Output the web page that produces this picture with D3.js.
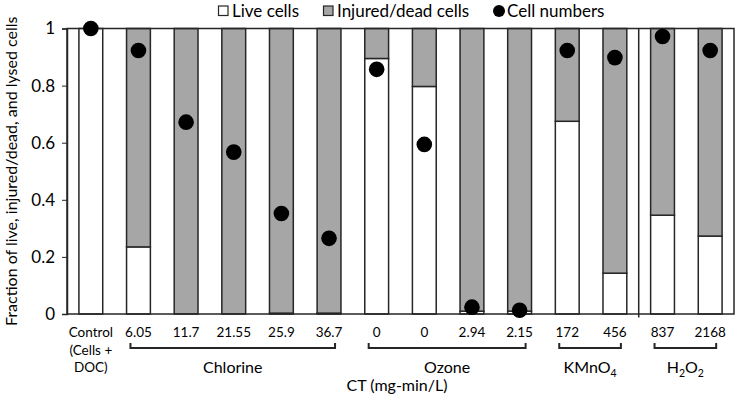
<!DOCTYPE html>
<html><head><meta charset="utf-8">
<script src="https://cdn.jsdelivr.net/npm/d3@7"></script>
<style>
html,body{margin:0;padding:0;background:#fff;}
svg text{font-family:Lato, "Open Sans", sans-serif;fill:#000;}
</style></head>
<body>
<svg id="chart" width="740" height="399"></svg>
<script>
// ---- data ----
const categories = ["Control|(Cells +|DOC)", "6.05", "11.7", "21.55", "25.9", "36.7", "0", "0", "2.94", "2.15", "172", "456", "837", "2168"];
const liveCells = [1.0, 0.235, 0, 0, 0.003, 0.003, 0.895, 0.797, 0.01, 0.01, 0.675, 0.143, 0.346, 0.273];
const injuredDeadCells = [0, 0.765, 1.0, 1.0, 0.997, 0.997, 0.105, 0.203, 0.99, 0.99, 0.325, 0.857, 0.654, 0.727];
const cellNumbers = [1.0, 0.923, 0.672, 0.567, 0.352, 0.265, 0.857, 0.594, 0.024, 0.013, 0.923, 0.898, 0.972, 0.923];
const yTicks = [0, 0.2, 0.4, 0.6, 0.8, 1];
const groupNames = ["Chlorine", "Ozone", "KMnO4", "H2O2"];
const groupStart = [1, 6, 10, 12];
const groupEnd = [5, 9, 11, 13];
const legendLabels = ["Live cells", "Injured/dead cells", "Cell numbers"];

// ---- layout ----
const svg = d3.select("#chart");
const L = 67, R = 734, T = 28.5, B = 314;
const idx = d3.range(categories.length);
const x = d3.scaleBand().domain(idx).range([L, R]).paddingInner(0.5).paddingOuter(0.25);
const y = d3.scaleLinear().domain([0, 1]).range([B, T]);
const gray = "#a6a6a6", stroke = "#262626";

// bars
const g = svg.append("g");
idx.forEach(i => {
  const x0 = x(i), w = x.bandwidth();
  g.append("rect").attr("x", x0).attr("width", w)
    .attr("y", y(liveCells[i])).attr("height", y(0) - y(liveCells[i]))
    .attr("fill", "#fff").attr("stroke", stroke).attr("stroke-width", 1.5);
  const top = liveCells[i] + injuredDeadCells[i];
  if (injuredDeadCells[i] > 0) {
    g.append("rect").attr("x", x0).attr("width", w)
      .attr("y", y(top)).attr("height", y(liveCells[i]) - y(top))
      .attr("fill", gray).attr("stroke", stroke).attr("stroke-width", 1.5);
  }
});

// frame
svg.append("rect").attr("x", L).attr("y", T).attr("width", R - L).attr("height", B - T)
  .attr("fill", "none").attr("stroke", stroke).attr("stroke-width", 1.5);

// separator between KMnO4 and H2O2
const sepX = (x(11) + x.bandwidth() + x(12)) / 2;
svg.append("line").attr("x1", sepX).attr("x2", sepX).attr("y1", T).attr("y2", B + 3.5)
  .attr("stroke", stroke).attr("stroke-width", 1.5);

// y axis
const yAxis = d3.axisLeft(y).tickValues(yTicks).tickSize(5).tickPadding(7)
  .tickFormat(d => String(+d.toFixed(1)));
const ya = svg.append("g").attr("transform", `translate(${L},0)`).call(yAxis);
ya.select(".domain").attr("stroke", stroke).attr("stroke-width", 1.5);
ya.selectAll(".tick line").attr("stroke", stroke);
ya.selectAll(".tick text").style("font-size", "17px").style("font-family", "Lato, 'Open Sans', sans-serif").attr("fill", "#000");

// points
svg.append("g").selectAll("circle").data(idx).join("circle")
  .attr("cx", i => x(i) + x.bandwidth() / 2)
  .attr("cy", i => y(cellNumbers[i]))
  .attr("r", 7.8).attr("fill", "#000");

// x labels
const xl = svg.append("g");
idx.forEach(i => {
  const lines = categories[i].split("|");
  const t = xl.append("text").attr("x", x(i) + x.bandwidth() / 2).attr("y", 337)
    .attr("text-anchor", "middle").style("font-size", "13.5px");
  lines.forEach((ln, k) => {
    t.append("tspan").attr("x", x(i) + x.bandwidth() / 2).attr("dy", k === 0 ? 0 : 17.5).text(ln);
  });
});

// group brackets
groupNames.forEach((nm, k) => {
  const x1 = x(groupStart[k]) + x.bandwidth() / 2 - 8;
  const x2 = x(groupEnd[k]) + x.bandwidth() / 2 + 6;
  const by = 348;
  svg.append("path").attr("d", `M${x1},${by - 5}V${by}H${x2}V${by - 5}`)
    .attr("fill", "none").attr("stroke", stroke).attr("stroke-width", 2);
  const cx = (x1 + x2) / 2;
  const t = svg.append("text").attr("x", cx).attr("y", 373).attr("text-anchor", "middle").style("font-size", "16px");
  const parts = nm.match(/[A-Za-z]+|\d+/g);
  let shifted = false;
  parts.forEach(p => {
    if (/^\d+$/.test(p)) {
      t.append("tspan").attr("dy", 4).style("font-size", "10.5px").text(p);
      shifted = true;
    } else {
      const ts = t.append("tspan").text(p);
      if (shifted) { ts.attr("dy", -4); shifted = false; }
    }
  });
});

// x axis title
svg.append("text").attr("x", 397).attr("y", 391).attr("text-anchor", "middle")
  .style("font-size", "16px").text("CT (mg-min/L)");

// y axis title
svg.append("text").attr("transform", `translate(17,${(T + B) / 2}) rotate(-90)`)
  .attr("text-anchor", "middle").style("font-size", "16px")
  .text("Fraction of live, injured/dead, and lysed cells");

// legend
const lg = svg.append("g");
const legY = 11;
lg.append("rect").attr("x", 218.5).attr("y", legY - 5).attr("width", 9.5).attr("height", 9.5)
  .attr("fill", "#fff").attr("stroke", stroke).attr("stroke-width", 1.2);
lg.append("text").attr("x", 232).attr("y", legY + 6).style("font-size", "17px").text(legendLabels[0]);
lg.append("rect").attr("x", 323.5).attr("y", legY - 5).attr("width", 9.5).attr("height", 9.5)
  .attr("fill", gray).attr("stroke", stroke).attr("stroke-width", 1.2);
lg.append("text").attr("x", 337).attr("y", legY + 6).style("font-size", "17px").text(legendLabels[1]);
lg.append("circle").attr("cx", 499).attr("cy", legY).attr("r", 6).attr("fill", "#000");
lg.append("text").attr("x", 507).attr("y", legY + 6).style("font-size", "17px").text(legendLabels[2]);
</script>
</body></html>
